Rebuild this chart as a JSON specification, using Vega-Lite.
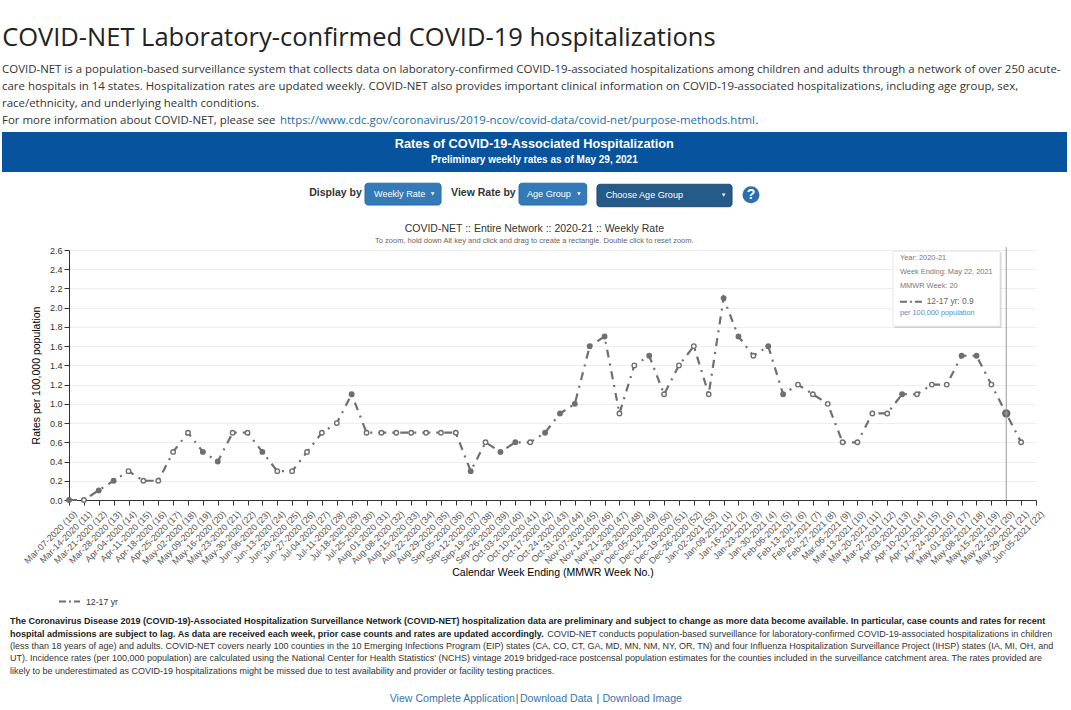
{
"$schema":"https://vega.github.io/schema/vega-lite/v6.json",
"padding":0,
"background":"#ffffff",
"spacing":0,
"bounds":"flush",
"config":{"view":{"stroke":null},"font":"Liberation Sans","text":{"font":"Liberation Sans"}},
"vconcat":[
{"width":1002,"height":61,
 "encoding":{"x":{"type":"quantitative","scale":{"domain":[0,100],"range":[-69,1002]},"axis":null},"y":{"type":"quantitative","scale":{"domain":[0,100],"reverse":true},"axis":null}},
 "layer":[
  {"data":{"values":[{"part":"page"}]},"mark":{"type":"rect","fill":"#ffffff"},"encoding":{"x":{"datum":0},"x2":{"datum":100},"y":{"datum":0},"y2":{"datum":100}}},
  {"data":{"values":[{"text":"COVID-NET Laboratory-confirmed COVID-19 hospitalizations"}]},
   "mark":{"type":"text","align":"left","baseline":"middle","font":"Open Sans","fontSize":25.5,"color":"#222222"},
   "encoding":{"text":{"field":"text"},"x":{"datum":0.2},"y":{"datum":61.8}}}
 ]},
{"width":1002,"height":71,
 "encoding":{"y":{"field":"line","type":"ordinal","scale":{"type":"band","domain":[1,2,3,4],"range":[0,68],"paddingInner":0,"paddingOuter":0},"axis":null},
   "x":{"datum":0.19,"type":"quantitative","scale":{"domain":[0,100],"range":[-69,1002]},"axis":null},"text":{"field":"text"}},
 "layer":[
  {"data":{"values":[
   {"line":1,"text":"COVID-NET is a population-based surveillance system that collects data on laboratory-confirmed COVID-19-associated hospitalizations among children and adults through a network of over 250 acute-"},
   {"line":2,"text":"care hospitals in 14 states. Hospitalization rates are updated weekly. COVID-NET also provides important clinical information on COVID-19-associated hospitalizations, including age group, sex,"},
   {"line":3,"text":"race/ethnicity, and underlying health conditions."},
   {"line":4,"text":"For more information about COVID-NET, please see"}]},
   "mark":{"type":"text","align":"left","baseline":"middle","font":"Open Sans","fontSize":11.45,"color":"#333333"}},
  {"data":{"values":[{"line":4,"text":"https://www.cdc.gov/coronavirus/2019-ncov/covid-data/covid-net/purpose-methods.html"}]},
   "mark":{"type":"text","align":"left","baseline":"middle","font":"Open Sans","fontSize":11.45,"color":"#1a6ea8"},
   "encoding":{"x":{"datum":26.14,"type":"quantitative"}}},
  {"data":{"values":[{"line":4,"text":"."}]},
   "mark":{"type":"text","align":"left","baseline":"middle","font":"Open Sans","fontSize":11.45,"color":"#333333"},
   "encoding":{"x":{"datum":70.55,"type":"quantitative"}}}
 ]},
{"width":1002,"height":118,
 "data":{"values":[{"part":"controls"}]},
 "encoding":{"x":{"type":"quantitative","scale":{"domain":[0,100],"range":[-69,1002]},"axis":null},"y":{"type":"quantitative","scale":{"domain":[0,100],"reverse":true},"axis":null}},
 "layer":[
  {"mark":{"type":"rect","fill":"#07539e"},"encoding":{"x":{"datum":0.187},"x2":{"datum":99.63},"y":{"datum":0},"y2":{"datum":33.9}}},
  {"data":{"values":[{"text":"Rates of COVID-19-Associated Hospitalization"}]},"mark":{"type":"text","fontWeight":"bold","fontSize":12.75,"color":"#ffffff","baseline":"middle"},"encoding":{"text":{"field":"text"},"x":{"datum":49.89},"y":{"datum":10.17}}},
  {"data":{"values":[{"text":"Preliminary weekly rates as of May 29, 2021"}]},"mark":{"type":"text","fontWeight":"bold","fontSize":10,"color":"#ffffff","baseline":"middle"},"encoding":{"text":{"field":"text"},"x":{"datum":49.89},"y":{"datum":23.7}}},
  {"data":{"values":[{"text":"Display by"}]},"mark":{"type":"text","fontWeight":"bold","fontSize":10.5,"color":"#333333","align":"right","baseline":"middle"},"encoding":{"text":{"field":"text"},"x":{"datum":33.78},"y":{"datum":51.5}}},
  {"data":{"values":[{"text":"View Rate by"}]},"mark":{"type":"text","fontWeight":"bold","fontSize":10.5,"color":"#333333","align":"right","baseline":"middle"},"encoding":{"text":{"field":"text"},"x":{"datum":48.15},"y":{"datum":51.5}}},
  {"mark":{"type":"rect","fill":"#337ab7","stroke":"#2e6da4","cornerRadius":3},"encoding":{"x":{"datum":34.08},"x2":{"datum":41.18},"y":{"datum":43.4},"y2":{"datum":61.9}}},
  {"mark":{"type":"rect","fill":"#337ab7","stroke":"#2e6da4","cornerRadius":3},"encoding":{"x":{"datum":48.46},"x2":{"datum":54.78},"y":{"datum":43.4},"y2":{"datum":61.9}}},
  {"mark":{"type":"rect","fill":"#265a88","stroke":"#204d74","cornerRadius":3},"encoding":{"x":{"datum":55.74},"x2":{"datum":68.35},"y":{"datum":44.3},"y2":{"datum":63.3}}},
  {"data":{"values":[{"text":"Weekly Rate"}]},"mark":{"type":"text","fontSize":9.1,"color":"#ffffff","align":"left","baseline":"middle"},"encoding":{"text":{"field":"text"},"x":{"datum":34.92},"y":{"datum":52.5}}},
  {"data":{"values":[{"text":"Age Group"}]},"mark":{"type":"text","fontSize":9.1,"color":"#ffffff","align":"left","baseline":"middle"},"encoding":{"text":{"field":"text"},"x":{"datum":49.2},"y":{"datum":52.5}}},
  {"data":{"values":[{"text":"Choose Age Group"}]},"mark":{"type":"text","fontSize":9.1,"color":"#ffffff","align":"left","baseline":"middle"},"encoding":{"text":{"field":"text"},"x":{"datum":56.55},"y":{"datum":53.5}}},
  {"mark":{"type":"point","shape":"triangle-down","filled":true,"color":"#ffffff","opacity":1,"size":14},"encoding":{"x":{"datum":40.4},"y":{"datum":52.5}}},
  {"mark":{"type":"point","shape":"triangle-down","filled":true,"color":"#ffffff","opacity":1,"size":14},"encoding":{"x":{"datum":54.06},"y":{"datum":52.5}}},
  {"mark":{"type":"point","shape":"triangle-down","filled":true,"color":"#ffffff","opacity":1,"size":14},"encoding":{"x":{"datum":67.57},"y":{"datum":53.5}}},
  {"mark":{"type":"circle","color":"#2a6fb0","opacity":1,"size":289},"encoding":{"x":{"datum":70.12},"y":{"datum":53.1}}},
  {"data":{"values":[{"text":"?"}]},"mark":{"type":"text","fontWeight":"bold","fontSize":14,"color":"#ffffff","baseline":"middle"},"encoding":{"text":{"field":"text"},"x":{"datum":70.12},"y":{"datum":53.5}}},
  {"data":{"values":[{"text":"COVID-NET :: Entire Network :: 2020-21 :: Weekly Rate"}]},"mark":{"type":"text","fontSize":10.5,"color":"#333333","baseline":"middle"},"encoding":{"text":{"field":"text"},"x":{"datum":49.89},"y":{"datum":82.2}}},
  {"data":{"values":[{"text":"To zoom, hold down Alt key and click and drag to create a rectangle. Double click to reset zoom."}]},"mark":{"type":"text","fontSize":7.5,"color":"#666666","baseline":"middle"},"encoding":{"text":{"field":"text"},"x":{"datum":49.89},"y":{"datum":92.4}}}
 ]},
{"width":967,"height":250,
  "resolve":{"scale":{"x":"independent","y":"independent"},"axis":{"x":"independent","y":"independent"}},
  "layer":[
   {"data":{"values":[
{"week":"Mar-07-2020 (10)","rate":0.0,"marker":"solid","series":"12-17 yr"},
{"week":"Mar-14-2020 (11)","rate":0.0,"marker":"open","series":"12-17 yr"},
{"week":"Mar-21-2020 (12)","rate":0.1,"marker":"solid","series":"12-17 yr"},
{"week":"Mar-28-2020 (13)","rate":0.2,"marker":"solid","series":"12-17 yr"},
{"week":"Apr-04-2020 (14)","rate":0.3,"marker":"open","series":"12-17 yr"},
{"week":"Apr-11-2020 (15)","rate":0.2,"marker":"open","series":"12-17 yr"},
{"week":"Apr-18-2020 (16)","rate":0.2,"marker":"open","series":"12-17 yr"},
{"week":"Apr-25-2020 (17)","rate":0.5,"marker":"open","series":"12-17 yr"},
{"week":"May-02-2020 (18)","rate":0.7,"marker":"open","series":"12-17 yr"},
{"week":"May-09-2020 (19)","rate":0.5,"marker":"solid","series":"12-17 yr"},
{"week":"May-16-2020 (20)","rate":0.4,"marker":"solid","series":"12-17 yr"},
{"week":"May-23-2020 (21)","rate":0.7,"marker":"open","series":"12-17 yr"},
{"week":"May-30-2020 (22)","rate":0.7,"marker":"open","series":"12-17 yr"},
{"week":"Jun-06-2020 (23)","rate":0.5,"marker":"solid","series":"12-17 yr"},
{"week":"Jun-13-2020 (24)","rate":0.3,"marker":"open","series":"12-17 yr"},
{"week":"Jun-20-2020 (25)","rate":0.3,"marker":"open","series":"12-17 yr"},
{"week":"Jun-27-2020 (26)","rate":0.5,"marker":"open","series":"12-17 yr"},
{"week":"Jul-04-2020 (27)","rate":0.7,"marker":"open","series":"12-17 yr"},
{"week":"Jul-11-2020 (28)","rate":0.8,"marker":"open","series":"12-17 yr"},
{"week":"Jul-18-2020 (29)","rate":1.1,"marker":"solid","series":"12-17 yr"},
{"week":"Jul-25-2020 (30)","rate":0.7,"marker":"open","series":"12-17 yr"},
{"week":"Aug-01-2020 (31)","rate":0.7,"marker":"open","series":"12-17 yr"},
{"week":"Aug-08-2020 (32)","rate":0.7,"marker":"open","series":"12-17 yr"},
{"week":"Aug-15-2020 (33)","rate":0.7,"marker":"open","series":"12-17 yr"},
{"week":"Aug-22-2020 (34)","rate":0.7,"marker":"open","series":"12-17 yr"},
{"week":"Aug-29-2020 (35)","rate":0.7,"marker":"open","series":"12-17 yr"},
{"week":"Sep-05-2020 (36)","rate":0.7,"marker":"open","series":"12-17 yr"},
{"week":"Sep-12-2020 (37)","rate":0.3,"marker":"solid","series":"12-17 yr"},
{"week":"Sep-19-2020 (38)","rate":0.6,"marker":"open","series":"12-17 yr"},
{"week":"Sep-26-2020 (39)","rate":0.5,"marker":"solid","series":"12-17 yr"},
{"week":"Oct-03-2020 (40)","rate":0.6,"marker":"solid","series":"12-17 yr"},
{"week":"Oct-10-2020 (41)","rate":0.6,"marker":"open","series":"12-17 yr"},
{"week":"Oct-17-2020 (42)","rate":0.7,"marker":"solid","series":"12-17 yr"},
{"week":"Oct-24-2020 (43)","rate":0.9,"marker":"solid","series":"12-17 yr"},
{"week":"Oct-31-2020 (44)","rate":1.0,"marker":"solid","series":"12-17 yr"},
{"week":"Nov-07-2020 (45)","rate":1.6,"marker":"solid","series":"12-17 yr"},
{"week":"Nov-14-2020 (46)","rate":1.7,"marker":"solid","series":"12-17 yr"},
{"week":"Nov-21-2020 (47)","rate":0.9,"marker":"open","series":"12-17 yr"},
{"week":"Nov-28-2020 (48)","rate":1.4,"marker":"open","series":"12-17 yr"},
{"week":"Dec-05-2020 (49)","rate":1.5,"marker":"solid","series":"12-17 yr"},
{"week":"Dec-12-2020 (50)","rate":1.1,"marker":"open","series":"12-17 yr"},
{"week":"Dec-19-2020 (51)","rate":1.4,"marker":"open","series":"12-17 yr"},
{"week":"Dec-26-2020 (52)","rate":1.6,"marker":"open","series":"12-17 yr"},
{"week":"Jan-02-2021 (53)","rate":1.1,"marker":"open","series":"12-17 yr"},
{"week":"Jan-09-2021 (1)","rate":2.1,"marker":"solid","series":"12-17 yr"},
{"week":"Jan-16-2021 (2)","rate":1.7,"marker":"solid","series":"12-17 yr"},
{"week":"Jan-23-2021 (3)","rate":1.5,"marker":"open","series":"12-17 yr"},
{"week":"Jan-30-2021 (4)","rate":1.6,"marker":"solid","series":"12-17 yr"},
{"week":"Feb-06-2021 (5)","rate":1.1,"marker":"solid","series":"12-17 yr"},
{"week":"Feb-13-2021 (6)","rate":1.2,"marker":"open","series":"12-17 yr"},
{"week":"Feb-20-2021 (7)","rate":1.1,"marker":"open","series":"12-17 yr"},
{"week":"Feb-27-2021 (8)","rate":1.0,"marker":"open","series":"12-17 yr"},
{"week":"Mar-06-2021 (9)","rate":0.6,"marker":"open","series":"12-17 yr"},
{"week":"Mar-13-2021 (10)","rate":0.6,"marker":"open","series":"12-17 yr"},
{"week":"Mar-20-2021 (11)","rate":0.9,"marker":"open","series":"12-17 yr"},
{"week":"Mar-27-2021 (12)","rate":0.9,"marker":"open","series":"12-17 yr"},
{"week":"Apr-03-2021 (13)","rate":1.1,"marker":"solid","series":"12-17 yr"},
{"week":"Apr-10-2021 (14)","rate":1.1,"marker":"open","series":"12-17 yr"},
{"week":"Apr-17-2021 (15)","rate":1.2,"marker":"open","series":"12-17 yr"},
{"week":"Apr-24-2021 (16)","rate":1.2,"marker":"open","series":"12-17 yr"},
{"week":"May-01-2021 (17)","rate":1.5,"marker":"solid","series":"12-17 yr"},
{"week":"May-08-2021 (18)","rate":1.5,"marker":"solid","series":"12-17 yr"},
{"week":"May-15-2021 (19)","rate":1.2,"marker":"open","series":"12-17 yr"},
{"week":"May-22-2021 (20)","rate":0.9,"marker":"solid","series":"12-17 yr"},
{"week":"May-29-2021 (21)","rate":0.6,"marker":"open","series":"12-17 yr"},
{"week":"Jun-05-2021 (22)","rate":null,"series":"12-17 yr"}
    ]},
    "encoding":{
     "x":{"field":"week","type":"ordinal","sort":null,"scale":{"type":"point","padding":0,"domain":["Mar-07-2020 (10)","Mar-14-2020 (11)","Mar-21-2020 (12)","Mar-28-2020 (13)","Apr-04-2020 (14)","Apr-11-2020 (15)","Apr-18-2020 (16)","Apr-25-2020 (17)","May-02-2020 (18)","May-09-2020 (19)","May-16-2020 (20)","May-23-2020 (21)","May-30-2020 (22)","Jun-06-2020 (23)","Jun-13-2020 (24)","Jun-20-2020 (25)","Jun-27-2020 (26)","Jul-04-2020 (27)","Jul-11-2020 (28)","Jul-18-2020 (29)","Jul-25-2020 (30)","Aug-01-2020 (31)","Aug-08-2020 (32)","Aug-15-2020 (33)","Aug-22-2020 (34)","Aug-29-2020 (35)","Sep-05-2020 (36)","Sep-12-2020 (37)","Sep-19-2020 (38)","Sep-26-2020 (39)","Oct-03-2020 (40)","Oct-10-2020 (41)","Oct-17-2020 (42)","Oct-24-2020 (43)","Oct-31-2020 (44)","Nov-07-2020 (45)","Nov-14-2020 (46)","Nov-21-2020 (47)","Nov-28-2020 (48)","Dec-05-2020 (49)","Dec-12-2020 (50)","Dec-19-2020 (51)","Dec-26-2020 (52)","Jan-02-2021 (53)","Jan-09-2021 (1)","Jan-16-2021 (2)","Jan-23-2021 (3)","Jan-30-2021 (4)","Feb-06-2021 (5)","Feb-13-2021 (6)","Feb-20-2021 (7)","Feb-27-2021 (8)","Mar-06-2021 (9)","Mar-13-2021 (10)","Mar-20-2021 (11)","Mar-27-2021 (12)","Apr-03-2021 (13)","Apr-10-2021 (14)","Apr-17-2021 (15)","Apr-24-2021 (16)","May-01-2021 (17)","May-08-2021 (18)","May-15-2021 (19)","May-22-2021 (20)","May-29-2021 (21)","Jun-05-2021 (22)"]},
      "axis":{"title":"Calendar Week Ending (MMWR Week No.)","titleFont":"Liberation Sans","titleFontSize":10.5,"titleFontWeight":"normal","titleColor":"#000000","titleY":67,"titleBaseline":"top","labelAngle":-45,"labelFontSize":9,"labelColor":"#555555","labelAlign":"right","labelBaseline":"middle","labelOverlap":false,"labelBound":false,"labelFlush":false,"labelPadding":7,"labelOffset":6,"tickSize":5,"tickColor":"#333333","domainColor":"#333333","grid":false}},
     "y":{"field":"rate","type":"quantitative","scale":{"domain":[0,2.6],"nice":false},
      "axis":{"title":"Rates per 100,000 population","titleFont":"Liberation Sans","titleFontSize":10.5,"titleFontWeight":"normal","titleColor":"#000000","titlePadding":8,"values":[0,0.2,0.4,0.6,0.8,1.0,1.2,1.4,1.6,1.8,2.0,2.2,2.4,2.6],"format":".1f","labelOverlap":false,"labelFontSize":9,"labelColor":"#333333","labelPadding":2,"tickSize":5,"tickColor":"#333333","domainColor":"#333333","grid":true,"gridColor":"#eeeeee"}}
    },
    "layer":[
     {"mark":{"type":"line","strokeWidth":2.2,"strokeDash":[8,6,2,6]},
      "encoding":{"stroke":{"field":"series","type":"nominal","scale":{"range":["#6f6f6f"]},
       "legend":{"orient":"none","legendX":-11,"legendY":590,"title":null,"symbolType":"stroke","symbolSize":441,"symbolStrokeWidth":2,"symbolDash":[7,3,2,3],"labelFontSize":8.7,"labelColor":"#333333","labelFont":"Liberation Sans","labelOffset":5}}}},
     {"mark":{"type":"circle","size":20,"opacity":1,"stroke":"#6f6f6f","strokeWidth":1.4},
      "encoding":{"fill":{"field":"marker","type":"nominal","scale":{"domain":["open","solid"],"range":["#ffffff","#6f6f6f"]},"legend":null}}},
     {"transform":[{"filter":"datum.week === 'May-22-2021 (20)'"}],
      "mark":{"type":"circle","size":40,"opacity":1,"fill":"#8a8a8a","stroke":"#666666","strokeWidth":2}}
    ]},
   {"data":{"values":[{"part":"crosshair"}]},"mark":{"type":"rule","color":"#999999","strokeWidth":1},
    "encoding":{"x":{"datum":96.923,"type":"quantitative","scale":{"domain":[0,100]},"axis":null},"y":{"datum":2.63,"type":"quantitative","scale":{"domain":[0,2.6],"nice":false},"axis":null},"y2":{"datum":0}}},
   {"data":{"values":[{"part":"tooltip shadow"}]},"mark":{"type":"rect","fill":"#000000","fillOpacity":0.18},
    "encoding":{"x":{"datum":85.36,"type":"quantitative","scale":{"domain":[0,100]},"axis":null},"x2":{"datum":96.43},"y":{"datum":2.574,"type":"quantitative","scale":{"domain":[0,2.6],"nice":false},"axis":null},"y2":{"datum":1.792}}},
   {"data":{"values":[{"part":"tooltip"}]},"mark":{"type":"rect","fill":"#ffffff","stroke":"#e6e6e6"},
    "encoding":{"x":{"datum":85.21,"type":"quantitative","scale":{"domain":[0,100]},"axis":null},"x2":{"datum":96.28},"y":{"datum":2.5875,"type":"quantitative","scale":{"domain":[0,2.6],"nice":false},"axis":null},"y2":{"datum":1.8075}}},
   {"data":{"values":[{"text":"Year: 2020-21"}]},"mark":{"type":"text","fontSize":7.4,"color":"#777777","align":"left","baseline":"middle"},
    "encoding":{"text":{"field":"text"},"x":{"datum":85.93,"type":"quantitative","scale":{"domain":[0,100]},"axis":null},"y":{"datum":2.515,"type":"quantitative","scale":{"domain":[0,2.6],"nice":false},"axis":null}}},
   {"data":{"values":[{"text":"Week Ending: May 22, 2021"}]},"mark":{"type":"text","fontSize":7.4,"color":"#777777","align":"left","baseline":"middle"},
    "encoding":{"text":{"field":"text"},"x":{"datum":85.93,"type":"quantitative","scale":{"domain":[0,100]},"axis":null},"y":{"datum":2.369,"type":"quantitative","scale":{"domain":[0,2.6],"nice":false},"axis":null}}},
   {"data":{"values":[{"text":"MMWR Week: 20"}]},"mark":{"type":"text","fontSize":7.4,"color":"#777777","align":"left","baseline":"middle"},
    "encoding":{"text":{"field":"text"},"x":{"datum":85.93,"type":"quantitative","scale":{"domain":[0,100]},"axis":null},"y":{"datum":2.224,"type":"quantitative","scale":{"domain":[0,2.6],"nice":false},"axis":null}}},
   {"data":{"values":[{"part":"tooltip key"}]},"mark":{"type":"rule","color":"#6f6f6f","strokeWidth":2,"strokeDash":[7,3,2,3]},
    "encoding":{"x":{"datum":85.93,"type":"quantitative","scale":{"domain":[0,100]},"axis":null},"x2":{"datum":88.24},"y":{"datum":2.061,"type":"quantitative","scale":{"domain":[0,2.6],"nice":false},"axis":null}}},
   {"data":{"values":[{"text":"12-17 yr: 0.9"}]},"mark":{"type":"text","fontSize":8.4,"color":"#666666","align":"left","baseline":"middle"},
    "encoding":{"text":{"field":"text"},"x":{"datum":88.69,"type":"quantitative","scale":{"domain":[0,100]},"axis":null},"y":{"datum":2.065,"type":"quantitative","scale":{"domain":[0,2.6],"nice":false},"axis":null}}},
   {"data":{"values":[{"text":"per 100,000 population"}]},"mark":{"type":"text","fontSize":7.3,"color":"#5b8db8","align":"left","baseline":"middle"},
    "encoding":{"text":{"field":"text"},"x":{"datum":85.93,"type":"quantitative","scale":{"domain":[0,100]},"axis":null},"y":{"datum":1.943,"type":"quantitative","scale":{"domain":[0,2.6],"nice":false},"axis":null}}}
  ]},
{"width":1002,"height":177,
 "encoding":{"y":{"field":"line","type":"ordinal","scale":{"type":"band","domain":[1,2,3,4,5],"range":[115,177],"paddingInner":0,"paddingOuter":0},"axis":null},
  "x":{"datum":0.93,"type":"quantitative","scale":{"domain":[0,100],"range":[-69,1002]},"axis":null},"text":{"field":"text"}},
 "layer":[
  {"data":{"values":[
   {"line":1,"text":"The Coronavirus Disease 2019 (COVID-19)-Associated Hospitalization Surveillance Network (COVID-NET) hospitalization data are preliminary and subject to change as more data become available. In particular, case counts and rates for recent"},
   {"line":2,"text":"hospital admissions are subject to lag. As data are received each week, prior case counts and rates are updated accordingly."}]},
   "mark":{"type":"text","align":"left","baseline":"middle","fontSize":9,"fontWeight":"bold","color":"#222222"}},
  {"data":{"values":[
   {"line":3,"text":"(less than 18 years of age) and adults. COVID-NET covers nearly 100 counties in the 10 Emerging Infections Program (EIP) states (CA, CO, CT, GA, MD, MN, NM, NY, OR, TN) and four Influenza Hospitalization Surveillance Project (IHSP) states (IA, MI, OH, and"},
   {"line":4,"text":"UT). Incidence rates (per 100,000 population) are calculated using the National Center for Health Statistics' (NCHS) vintage 2019 bridged-race postcensal population estimates for the counties included in the surveillance catchment area. The rates provided are"},
   {"line":5,"text":"likely to be underestimated as COVID-19 hospitalizations might be missed due to test availability and provider or facility testing practices."}]},
   "mark":{"type":"text","align":"left","baseline":"middle","fontSize":9,"color":"#333333"}},
  {"data":{"values":[{"line":2,"text":"COVID-NET conducts population-based surveillance for laboratory-confirmed COVID-19-associated hospitalizations in children"}]},
   "mark":{"type":"text","align":"left","baseline":"middle","fontSize":9,"color":"#333333"},
   "encoding":{"x":{"datum":51.1,"type":"quantitative"}}}
 ]},
{"width":1002,"height":33,
 "encoding":{"x":{"type":"quantitative","scale":{"domain":[0,100],"range":[-69,1002]},"axis":null},"y":{"datum":66.7,"type":"quantitative","scale":{"domain":[0,100],"reverse":true},"axis":null},"text":{"field":"text"}},
 "layer":[
  {"data":{"values":[{"text":"View Complete Application"}]},"mark":{"type":"text","align":"left","baseline":"middle","fontSize":10.6,"color":"#3a74ab"},"encoding":{"x":{"datum":36.39}}},
  {"data":{"values":[{"text":"|"}]},"mark":{"type":"text","align":"left","baseline":"middle","fontSize":10.6,"color":"#555555"},"encoding":{"x":{"datum":48.15}}},
  {"data":{"values":[{"text":"Download Data"}]},"mark":{"type":"text","align":"left","baseline":"middle","fontSize":10.6,"color":"#3a74ab"},"encoding":{"x":{"datum":48.55}}},
  {"data":{"values":[{"text":"|"}]},"mark":{"type":"text","align":"left","baseline":"middle","fontSize":10.6,"color":"#555555"},"encoding":{"x":{"datum":55.7}}},
  {"data":{"values":[{"text":"Download Image"}]},"mark":{"type":"text","align":"left","baseline":"middle","fontSize":10.6,"color":"#3a74ab"},"encoding":{"x":{"datum":56.25}}}
 ]}
]}
